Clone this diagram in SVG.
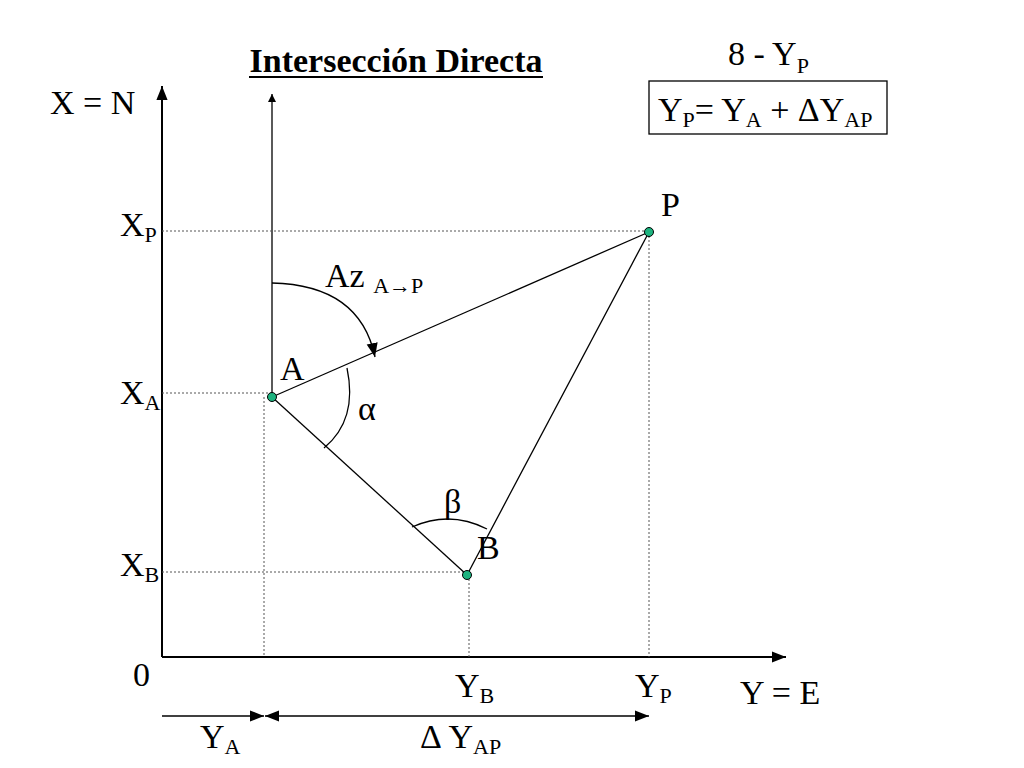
<svg xmlns="http://www.w3.org/2000/svg" width="1024" height="768" viewBox="0 0 1024 768">
<style>
text{font-family:"Liberation Serif","Times New Roman",serif;fill:#000}
.t{font-size:34px}.s{font-size:22px}
.ln{stroke:#000;stroke-width:2;fill:none}
.th{stroke:#000;stroke-width:1.3;fill:none}
.dt{stroke:#555;stroke-width:1;stroke-dasharray:2,2;fill:none}
.pt{fill:#1db37f;stroke:#000;stroke-width:1}
</style>
<defs>
<marker id="ah" viewBox="0 0 10 10" refX="10" refY="5" markerWidth="8" markerHeight="8" orient="auto-start-reverse" markerUnits="userSpaceOnUse"><path d="M0,0L10,5L0,10Z" fill="#000"/></marker>
<marker id="ab" viewBox="0 0 10 10" refX="10" refY="5" markerWidth="14" markerHeight="14" orient="auto-start-reverse" markerUnits="userSpaceOnUse"><path d="M0,1L10,5L0,9Z" fill="#000"/></marker>
</defs>
<rect width="1024" height="768" fill="#fff"/>
<text x="396" y="72" text-anchor="middle" font-size="34" font-weight="bold">Intersección Directa</text>
<line x1="249" y1="77" x2="543" y2="77" stroke="#000" stroke-width="2"/>
<text class="t" x="728" y="65">8 - Y<tspan class="s" dy="8">P</tspan></text>
<rect x="649" y="81" width="238" height="53" fill="none" stroke="#000" stroke-width="1.3"/>
<text class="t" x="658" y="121">Y<tspan class="s" dy="6">P</tspan><tspan dy="-6">= Y</tspan><tspan class="s" dy="6">A</tspan><tspan dy="-6"> + ΔY</tspan><tspan class="s" dy="6">AP</tspan></text>
<g id="connectors">
<line class="ln" x1="162" y1="657" x2="162" y2="86" marker-end="url(#ab)"/>
<line class="ln" x1="162" y1="657" x2="786" y2="657" marker-end="url(#ab)"/>
<line class="th" x1="272" y1="397" x2="272" y2="94" marker-end="url(#ah)"/>
<line class="dt" x1="162" y1="231" x2="649" y2="231"/>
<line class="dt" x1="649" y1="232" x2="649" y2="657"/>
<line class="dt" x1="162" y1="393" x2="272" y2="393"/>
<line class="dt" x1="264" y1="397" x2="264" y2="657"/>
<line class="dt" x1="162" y1="572" x2="467" y2="572"/>
<line class="dt" x1="469" y1="575" x2="469" y2="657"/>
<line class="th" x1="272" y1="397" x2="649" y2="232"/>
<line class="th" x1="272" y1="397" x2="467" y2="575"/>
<line class="th" x1="467" y1="575" x2="649" y2="232"/>
<path class="th" d="M272,283 Q360,285 375,357" marker-end="url(#ab)"/>
<path class="th" d="M347,368 Q358,420 324,448"/>
<path class="th" d="M412,527 Q450,510 487,529"/>
<line class="th" x1="162" y1="716" x2="264" y2="716" marker-end="url(#ab)"/>
<line class="th" x1="265" y1="716" x2="649" y2="716" marker-start="url(#ab)" marker-end="url(#ab)"/>
</g>
<g id="A"><circle class="pt" cx="272" cy="397" r="4.5"/><text class="t" x="280" y="380">A</text></g>
<g id="P"><circle class="pt" cx="649" cy="232" r="4.5"/><text class="t" x="661" y="216">P</text></g>
<g id="B"><circle class="pt" cx="467" cy="575" r="4.5"/><text class="t" x="477" y="559">B</text></g>
<text class="t" x="50" y="114">X = N</text>
<text class="t" x="120" y="236">X<tspan class="s" dy="6">P</tspan></text>
<text class="t" x="120" y="404">X<tspan class="s" dy="6">A</tspan></text>
<text class="t" x="120" y="576">X<tspan class="s" dy="6">B</tspan></text>
<text class="t" x="133" y="686">0</text>
<text class="t" x="455" y="697">Y<tspan class="s" dy="6">B</tspan></text>
<text class="t" x="635" y="697">Y<tspan class="s" dy="6">P</tspan></text>
<text class="t" x="740" y="704">Y  = E</text>
<text class="t" x="200" y="748">Y<tspan class="s" dy="6">A</tspan></text>
<text class="t" x="420" y="748">Δ Y<tspan class="s" dy="6">AP</tspan></text>
<text class="t" x="325" y="287">Az <tspan class="s" dy="6">A→P</tspan></text>
<text class="t" x="358" y="420">α</text>
<text class="t" x="444" y="513">β</text>
</svg>
